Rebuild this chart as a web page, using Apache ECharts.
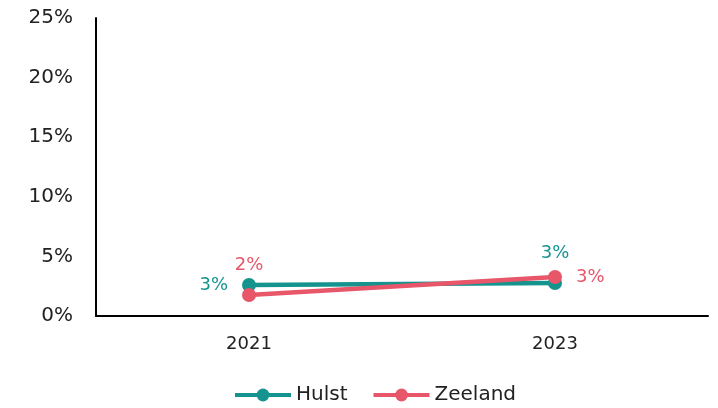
<!DOCTYPE html>
<html><head><meta charset="utf-8">
<script src="https://cdn.jsdelivr.net/npm/echarts@6/dist/echarts.min.js"></script>
<style>html,body{margin:0;padding:0;background:#fff}#c{width:718px;height:408px}</style>
</head><body><div id="c"></div>
<script>
const categories = ['2021', '2023'];
const hulst = [2.6, 2.77];
const zeeland = [1.76, 3.27];
const hulstLabelPos = ['left', 'top'];
const zeelandLabelPos = ['top', 'right'];

const font = '"DejaVu Sans", sans-serif';
const teal = '#15948F';
const red = '#E8566A';

function mk(vals, pos, color) {
  return vals.map((v, i) => ({
    value: v,
    label: { show: true, position: pos[i], distance: 14, color: color, fontSize: 18, fontFamily: font,
      formatter: p => Math.round(p.value) + '%' }
  }));
}

const chart = echarts.init(document.getElementById('c'));
chart.setOption({
  animation: false,
  grid: { left: 96, right: 10, top: 18, bottom: 92 },
  legend: {
    top: 380, left: 228, itemWidth: 56, itemHeight: 16, itemGap: 24,
    lineStyle: { width: 4 },
    textStyle: { fontSize: 20, fontFamily: font, color: '#222' },
    data: ['Hulst', 'Zeeland']
  },
  xAxis: {
    type: 'category', data: categories,
    axisLine: { lineStyle: { color: '#000', width: 2 } },
    axisTick: { show: false },
    axisLabel: { fontSize: 18, fontFamily: font, color: '#222', margin: 19 }
  },
  yAxis: {
    type: 'value', min: 0, max: 25, interval: 5,
    axisLine: { show: true, lineStyle: { color: '#000', width: 2 } },
    splitLine: { show: false },
    axisTick: { show: false },
    axisLabel: { fontSize: 20, fontFamily: font, color: '#222', margin: 23, formatter: v => v + '%' }
  },
  series: [
    { name: 'Hulst', type: 'line', data: mk(hulst, hulstLabelPos, teal), color: teal,
      lineStyle: { width: 4.5, color: teal }, symbol: 'circle', symbolSize: 14,
      itemStyle: { color: teal } },
    { name: 'Zeeland', type: 'line', data: mk(zeeland, zeelandLabelPos, red), color: red,
      lineStyle: { width: 4.5, color: red }, symbol: 'circle', symbolSize: 14,
      itemStyle: { color: red } }
  ]
});
</script></body></html>
